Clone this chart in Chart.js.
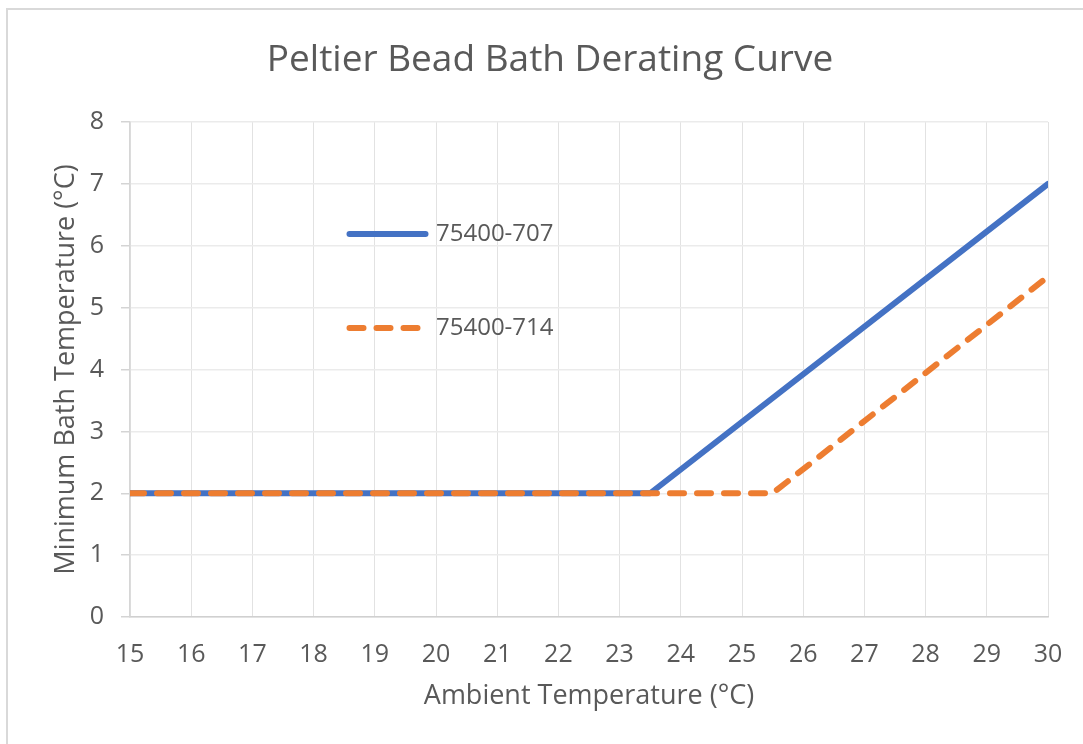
<!DOCTYPE html>
<html>
<head>
<meta charset="utf-8">
<script src="https://cdn.jsdelivr.net/npm/chart.js@4.4.1/dist/chart.umd.min.js"></script>
<style>
  html, body { margin: 0; padding: 0; background: #fff; overflow: hidden; }
  #frame {
    position: absolute; left: 6px; top: 8px;
    width: 1090px; height: 760px;
    border: 2px solid #d9d9d9;
  }
  #frame canvas { display: block; }
</style>
</head>
<body>
<div id="frame"><canvas id="derating" width="1090" height="760"></canvas></div>
<script>
// ─── DATOS ────────────────────────────────────────────────────────────────────
const chartTitle = 'Peltier Bead Bath Derating Curve';
const xTitle = 'Ambient Temperature (°C)';
const yTitle = 'Minimum Bath Temperature (°C)';

const seriesNames = ['75400-707', '75400-714'];

// 75400-707: plano a 2 °C hasta 23.5 °C de ambiente, luego sube
const ambient707 = [15, 23.5, 30];
const minBath707 = [2, 2, 7];

// 75400-714: plano a 2 °C hasta 25.5 °C de ambiente
const ambient714 = [15, 25.5, 30];
const minBath714 = [2, 2, 5.5];

const xMin = 15, xMax = 30;
const yMin = 0, yMax = 8;

const toPoints = (xs, ys) => xs.map((x, i) => ({ x, y: ys[i] }));

// ─── ESTILO ───────────────────────────────────────────────────────────────────
const FONT = '"Open Sans", "Liberation Sans", sans-serif';
const TEXT = '#595959';
const BLUE = '#4472c4';
const ORANGE = '#ed7d31';

// Leyenda dibujada dentro del área del gráfico
const insideLegend = {
    id: 'insideLegend',
    afterDatasetsDraw(chart, args, opts) {
        const ctx = chart.ctx;
        ctx.save();
        chart.data.datasets.forEach((ds, i) => {
            const y = opts.rows[i];
            ctx.beginPath();
            ctx.lineWidth = ds.borderWidth;
            ctx.strokeStyle = ds.borderColor;
            ctx.lineCap = 'round';
            ctx.setLineDash(ds.borderDash || []);
            ctx.moveTo(opts.x, y);
            ctx.lineTo(opts.x + opts.lineLen, y);
            ctx.stroke();
            ctx.setLineDash([]);
            ctx.fillStyle = TEXT;
            ctx.font = `${opts.fontSize}px ${FONT}`;
            ctx.textBaseline = 'middle';
            ctx.textAlign = 'left';
            ctx.fillText(ds.label, opts.textX, y);
        });
        ctx.restore();
    }
};

new Chart(document.getElementById('derating'), {
    type: 'line',
    data: {
        datasets: [
            {
                label: seriesNames[0],
                data: toPoints(ambient707, minBath707),
                borderColor: BLUE,
                borderWidth: 6,
                borderCapStyle: 'round',
                borderJoinStyle: 'round',
                pointRadius: 0,
                tension: 0,
                order: 2
            },
            {
                label: seriesNames[1],
                data: toPoints(ambient714, minBath714),
                borderColor: ORANGE,
                borderWidth: 6,
                borderDash: [14, 13],
                borderCapStyle: 'round',
                borderJoinStyle: 'round',
                pointRadius: 0,
                tension: 0,
                order: 1
            }
        ]
    },
    options: {
        responsive: false,
        animation: false,
        layout: { padding: { top: 0, right: 6, bottom: 0, left: 0 } },
        plugins: {
            legend: { display: false },
            tooltip: { enabled: false },
            title: {
                display: true,
                text: chartTitle,
                color: TEXT,
                font: { family: FONT, size: 37, weight: 'normal', lineHeight: 1.2 },
                padding: { top: 28, bottom: 39.6 }
            },
            insideLegend: { x: 341.5, lineLen: 76, textX: 428, rows: [224, 318], fontSize: 24 }
        },
        scales: {
            x: {
                type: 'linear',
                min: xMin,
                max: xMax,
                afterFit: s => { s.height = 153; },
                ticks: { stepSize: 1, color: TEXT, padding: 22.5, font: { family: FONT, size: 25 } },
                grid: { color: '#e2e2e2', lineWidth: 1, drawTicks: false },
                border: { color: '#d0d0d0', width: 1.5 },
                title: {
                    display: true, text: xTitle, color: TEXT,
                    font: { family: FONT, size: 27, lineHeight: 1.2 },
                    padding: { top: 0, bottom: 57 }
                }
            },
            y: {
                min: yMin,
                max: yMax,
                afterFit: s => { s.width = 122; },
                ticks: { stepSize: 1, color: TEXT, padding: 17, font: { family: FONT, size: 25 } },
                grid: { color: '#ebebeb', lineWidth: 1.5, tickLength: 9, tickColor: '#d4d4d4' },
                border: { color: '#d6d6d6', width: 1.5 },
                title: {
                    display: true, text: yTitle, color: TEXT,
                    font: { family: FONT, size: 27, lineHeight: 1.2 },
                    padding: { top: 42, bottom: 0 }
                }
            },
            // margen derecho vacío, para que el título quede centrado en el marco
            yRight: {
                position: 'right',
                min: yMin,
                max: yMax,
                afterFit: s => { s.width = 44; },
                ticks: { display: false },
                grid: { display: false },
                border: { display: false }
            }
        }
    },
    plugins: [insideLegend]
});
</script>
</body>
</html>
